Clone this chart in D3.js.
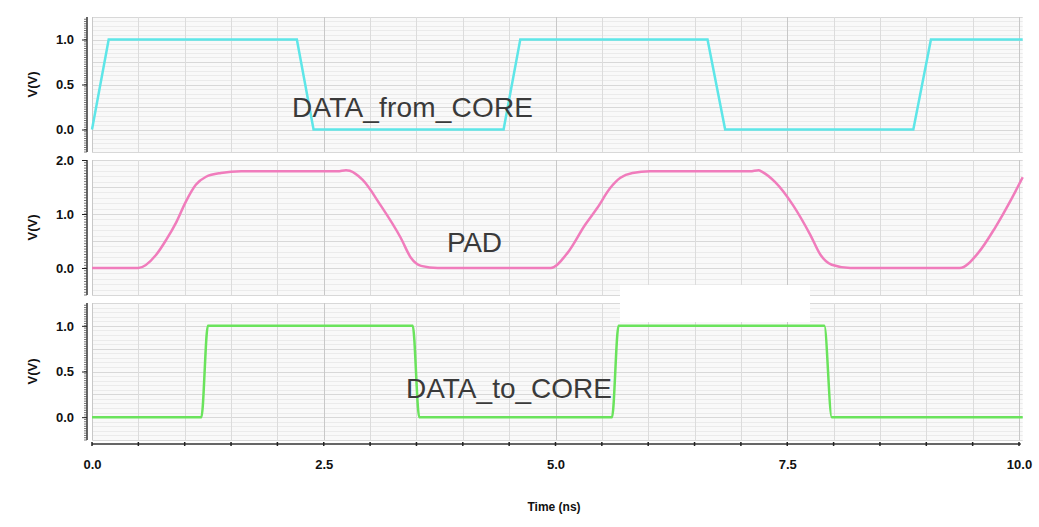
<!doctype html>
<html>
<head>
<meta charset="utf-8">
<script src="https://d3js.org/d3.v7.min.js"></script>
<style>
  body { margin: 0; background: #fff; }
  .tick text { font-family: "Liberation Sans", Arial, sans-serif; font-weight: bold; font-size: 13px; fill: #111; }
</style>
</head>
<body>
<svg width="1039" height="527"></svg>
<script>
// ---- data (time in ns, volts) ----
var fromCoreTime = [0, 0.18, 2.21, 2.39, 4.44, 4.62, 6.64, 6.83, 8.86, 9.05, 10.04];
var fromCoreV    = [0, 1,    1,    0,    0,    1,    1,    0,    0,    1,    1];

var padTime = [0, 0.5, 0.69, 0.80, 0.91, 1.01, 1.12, 1.23, 1.39, 1.61,
               2.65, 2.74, 2.78, 2.92, 3.11, 3.33, 3.44, 3.55, 3.73,
               4.95, 5.13, 5.32, 5.45, 5.59, 5.70, 5.83, 6.02,
               7.10, 7.19, 7.23, 7.37, 7.56, 7.75, 7.86, 7.98, 8.18,
               9.36, 9.56, 9.74, 9.90, 10.04];
var padV    = [0, 0, 0.24, 0.52, 0.85, 1.22, 1.54, 1.69, 1.76, 1.79,
               1.79, 1.81, 1.80, 1.63, 1.17, 0.56, 0.19, 0.04, 0,
               0, 0.28, 0.80, 1.11, 1.48, 1.67, 1.76, 1.79,
               1.79, 1.81, 1.78, 1.59, 1.17, 0.61, 0.24, 0.06, 0,
               0, 0.28, 0.74, 1.22, 1.68];

var toCoreTime = [0, 1.18, 1.25, 3.46, 3.53, 5.61, 5.68, 7.90, 7.98, 10.04];
var toCoreV    = [0, 0,    1,    1,    0,    0,    1,    1,    0,    0];

var xTicks = [0, 2.5, 5, 7.5, 10];
var panelNames = ["DATA_from_CORE", "PAD", "DATA_to_CORE"];

var svg = d3.select("svg");

var x = d3.scaleLinear().domain([0, 10]).range([92, 1019]);
var tEnd = 10.04;

var panels = [
  { name: panelNames[0], t: fromCoreTime, v: fromCoreV, color: "#5ee6e8",
    y: d3.scaleLinear().domain([-0.25, 1.25]).range([152, 17]),
    ticks: [0, 0.5, 1.0], minor: 0.05, mid: 0.25, curve: d3.curveLinear,
    label: { x: 292, y: 117 } },
  { name: panelNames[1], t: padTime, v: padV, color: "#f07cbc",
    y: d3.scaleLinear().domain([-0.5, 2.0]).range([295, 160]),
    ticks: [0, 1.0, 2.0], minor: 0.1, mid: 0.5, curve: d3.curveMonotoneX,
    label: { x: 447, y: 252 } },
  { name: panelNames[2], t: toCoreTime, v: toCoreV, color: "#6ae35c",
    y: d3.scaleLinear().domain([-0.25, 1.25]).range([440, 303]),
    ticks: [0, 0.5, 1.0], minor: 0.05, mid: 0.25, curve: d3.curveMonotoneX,
    label: { x: 406, y: 398 } }
];

panels.forEach(function(p) {
  var g = svg.append("g");
  var y0 = p.y.range()[0], y1 = p.y.range()[1];

  // plot background
  g.append("rect")
   .attr("x", x(0)).attr("y", y1)
   .attr("width", x(tEnd) - x(0)).attr("height", y0 - y1)
   .attr("fill", "#f9f9f9");

  // horizontal grid (minor + medium)
  var lo = p.y.domain()[0], hi = p.y.domain()[1];
  var hv = d3.range(Math.ceil(lo / p.minor) * p.minor, hi + 1e-9, p.minor);
  g.selectAll(".hg").data(hv).enter().append("line")
   .attr("x1", x(0)).attr("x2", x(tEnd))
   .attr("y1", function(d) { return Math.round(p.y(d)) + 0.5; })
   .attr("y2", function(d) { return Math.round(p.y(d)) + 0.5; })
   .attr("stroke", function(d) {
     return Math.abs(d / p.mid - Math.round(d / p.mid)) < 1e-6 ? "#d8d8d8" : "#ebebeb";
   })
   .attr("stroke-width", 1);

  // vertical grid every 0.5 ns
  g.selectAll(".vg").data(d3.range(0, 10.01, 0.5)).enter().append("line")
   .attr("x1", function(d) { return Math.round(x(d)) + 0.5; })
   .attr("x2", function(d) { return Math.round(x(d)) + 0.5; })
   .attr("y1", y1).attr("y2", y0)
   .attr("stroke", function(d) { return d % 2.5 === 0 ? "#c8c8c8" : "#dcdcdc"; });

  // left axis: dense minor ticks + labels
  var ax = svg.append("g").attr("transform", "translate(87,0)");
  ax.append("line").attr("x1", 0).attr("x2", 0).attr("y1", y1).attr("y2", y0)
    .attr("stroke", "#333").attr("stroke-width", 1.5);
  ax.selectAll(".mt").data(d3.range(Math.ceil(lo / 0.025) * 0.025, hi, p.minor / 2)).enter()
    .append("line")
    .attr("x1", -3).attr("x2", 0)
    .attr("y1", function(d) { return p.y(d); })
    .attr("y2", function(d) { return p.y(d); })
    .attr("stroke", "#555").attr("stroke-width", 0.8);
  ax.append("g")
    .call(d3.axisLeft(p.y).tickValues(p.ticks).tickSize(5).tickPadding(8)
      .tickFormat(d3.format(".1f")))
    .call(function(s) { s.select(".domain").remove(); s.selectAll("line").attr("stroke", "#222"); });

  svg.append("text")
   .attr("transform", "translate(37," + ((y0 + y1) / 2) + ") rotate(-90)")
   .attr("text-anchor", "middle")
   .attr("font-family", "Liberation Sans, Arial, sans-serif")
   .attr("font-weight", "bold").attr("font-size", 13).attr("fill", "#111")
   .text("V(V)");

  // waveform
  var pts = p.t.map(function(t, i) { return [t, p.v[i]]; });
  g.append("path")
   .datum(pts)
   .attr("fill", "none")
   .attr("stroke", p.color)
   .attr("stroke-width", 2.5)
   .attr("d", d3.line().curve(p.curve)
     .x(function(d) { return x(d[0]); })
     .y(function(d) { return p.y(d[1]); }));
});

// white patch covering part of the bottom panel top, as in the picture
svg.append("rect")
   .attr("x", 620).attr("y", 285).attr("width", 190).attr("height", 37)
   .attr("fill", "#fff");

// signal names
panels.forEach(function(p) {
  svg.append("text")
   .attr("x", p.label.x).attr("y", p.label.y)
   .attr("font-family", "Liberation Sans, Arial, sans-serif")
   .attr("font-size", 28)
   .attr("fill", "#3a3a3a")
   .attr("textLength", p.name === "PAD" ? 55 : (p.name === "DATA_from_CORE" ? 241 : 206))
   .text(p.name);
});

// bottom time axis
var xa = svg.append("g").attr("transform", "translate(0,444)");
xa.append("line").attr("x1", x(0)).attr("x2", x(10.02)).attr("y1", 0).attr("y2", 0)
  .attr("stroke", "#333").attr("stroke-width", 1.5);
xa.selectAll(".xt").data(d3.range(0, 10.01, 0.5)).enter().append("line")
  .attr("x1", function(d) { return x(d); }).attr("x2", function(d) { return x(d); })
  .attr("y1", -2).attr("y2", 2).attr("stroke", "#222").attr("stroke-width", 1.5);
xa.append("g")
  .call(d3.axisBottom(x).tickValues(xTicks).tickSize(0).tickPadding(16)
    .tickFormat(d3.format(".1f")))
  .call(function(s) { s.select(".domain").remove(); });

svg.append("text")
   .attr("x", 554).attr("y", 511)
   .attr("text-anchor", "middle")
   .attr("font-family", "Liberation Sans, Arial, sans-serif")
   .attr("font-weight", "bold").attr("font-size", 12).attr("fill", "#111")
   .text("Time (ns)");
</script>
</body>
</html>
